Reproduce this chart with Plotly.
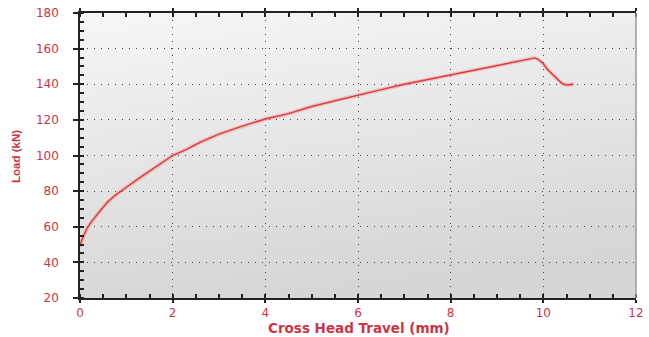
import base64
import plotly.graph_objects as go

# Data
travel_mm = [0.0, 0.03, 0.08, 0.15, 0.25, 0.4, 0.58, 0.75, 0.9, 1.1, 1.37, 1.6, 1.8, 2.0,
             2.3, 2.6, 3.0, 3.5, 4.0, 4.5, 5.0, 5.5, 6.0, 6.5, 7.0, 7.5, 8.0, 8.5, 9.0,
             9.4, 9.7, 9.82, 9.9, 10.0, 10.1, 10.2, 10.3, 10.4, 10.5, 10.6, 10.65]
load_kn = [49, 52, 55, 59, 63, 68, 73.5, 77.5, 80.5, 84, 89, 93, 96.5, 100,
           103.5, 107.5, 112, 116.5, 120.5, 123.5, 127.5, 130.8, 134, 137, 140, 142.6, 145.2, 147.6, 150.3,
           152.4, 154.2, 154.8, 153.8, 151.5, 148, 145.5, 142.5, 140.5, 139.6, 139.8, 140]

x_ticks = [0, 2, 4, 6, 8, 10, 12]
y_ticks = [20, 40, 60, 80, 100, 120, 140, 160, 180]
x_title = "Cross Head Travel (mm)"
y_title = "Load (kN)"

RED = "#c93545"
LINE = "#dd3a3a"

svg = """<svg xmlns='http://www.w3.org/2000/svg' width='100' height='100' preserveAspectRatio='none'>
<defs><linearGradient id='g' x1='0' y1='0' x2='0.25' y2='1'>
<stop offset='0' stop-color='#f6f6f6'/><stop offset='1' stop-color='#d6d6d6'/></linearGradient></defs>
<rect width='100' height='100' fill='url(#g)'/></svg>"""
bg_uri = "data:image/svg+xml;base64," + base64.b64encode(svg.encode()).decode()

fig = go.Figure()
fig.add_trace(go.Scatter(x=travel_mm, y=load_kn, mode="lines",
                         line=dict(color="rgba(240,120,120,0.35)", width=4),
                         hoverinfo="skip", showlegend=False))
fig.add_trace(go.Scatter(x=travel_mm, y=load_kn, mode="lines",
                         line=dict(color=LINE, width=1.4), showlegend=False))

grid = dict(showgrid=True, gridcolor="#444444", gridwidth=1, griddash="1px,6px")

fig.update_xaxes(range=[0, 12], tickvals=x_ticks, ticktext=[str(v) for v in x_ticks],
                 ticks="outside", ticklen=3, tickwidth=1.5, tickcolor="#222",
                 showline=True, linecolor="#222", linewidth=1.5, mirror="allticks",
                 minor=dict(dtick=0.5, ticks="inside", ticklen=4, tickwidth=1.5, tickcolor="#222", showgrid=False),
                 tickfont=dict(family="DejaVu Sans", size=12, color=RED),
                 automargin=False, zeroline=False, **grid)
fig.update_yaxes(range=[20, 180], tickvals=y_ticks, ticktext=[str(v) for v in y_ticks],
                 ticks="outside", ticklen=5, tickwidth=1.5, tickcolor="#222",
                 showline=True, linecolor="#222", linewidth=1.5,
                 minor=dict(dtick=5, ticks="inside", ticklen=4, tickwidth=1.5, tickcolor="#222", showgrid=False),
                 tickfont=dict(family="DejaVu Sans", size=12, color=RED),
                 ticklabelstandoff=12,
                 automargin=False, zeroline=False, **grid)

fig.add_shape(type="line", xref="paper", yref="paper", x0=1, x1=1, y0=0, y1=1,
              line=dict(color="#9a9a9a", width=1.5))

fig.add_annotation(text="<b>" + x_title + "</b>", xref="paper", yref="paper",
                   x=0.501, y=-0.105, xanchor="center", yanchor="middle", showarrow=False,
                   font=dict(family="DejaVu Sans", size=13.5, color=RED))
fig.add_annotation(text="<b>" + y_title + "</b>", xref="paper", yref="paper",
                   x=-0.115, y=0.495, xanchor="center", yanchor="middle", showarrow=False,
                   textangle=-90,
                   font=dict(family="Liberation Sans Narrow, Liberation Sans", size=11.5, color=RED))

fig.update_layout(
    width=649, height=337,
    margin=dict(l=80, r=13, t=13, b=39),
    paper_bgcolor="white", plot_bgcolor="#e6e6e6",
    images=[dict(source=bg_uri, xref="paper", yref="paper", x=0, y=1, sizex=1, sizey=1,
                 sizing="stretch", layer="below")],
)

fig.write_html("out.html")
